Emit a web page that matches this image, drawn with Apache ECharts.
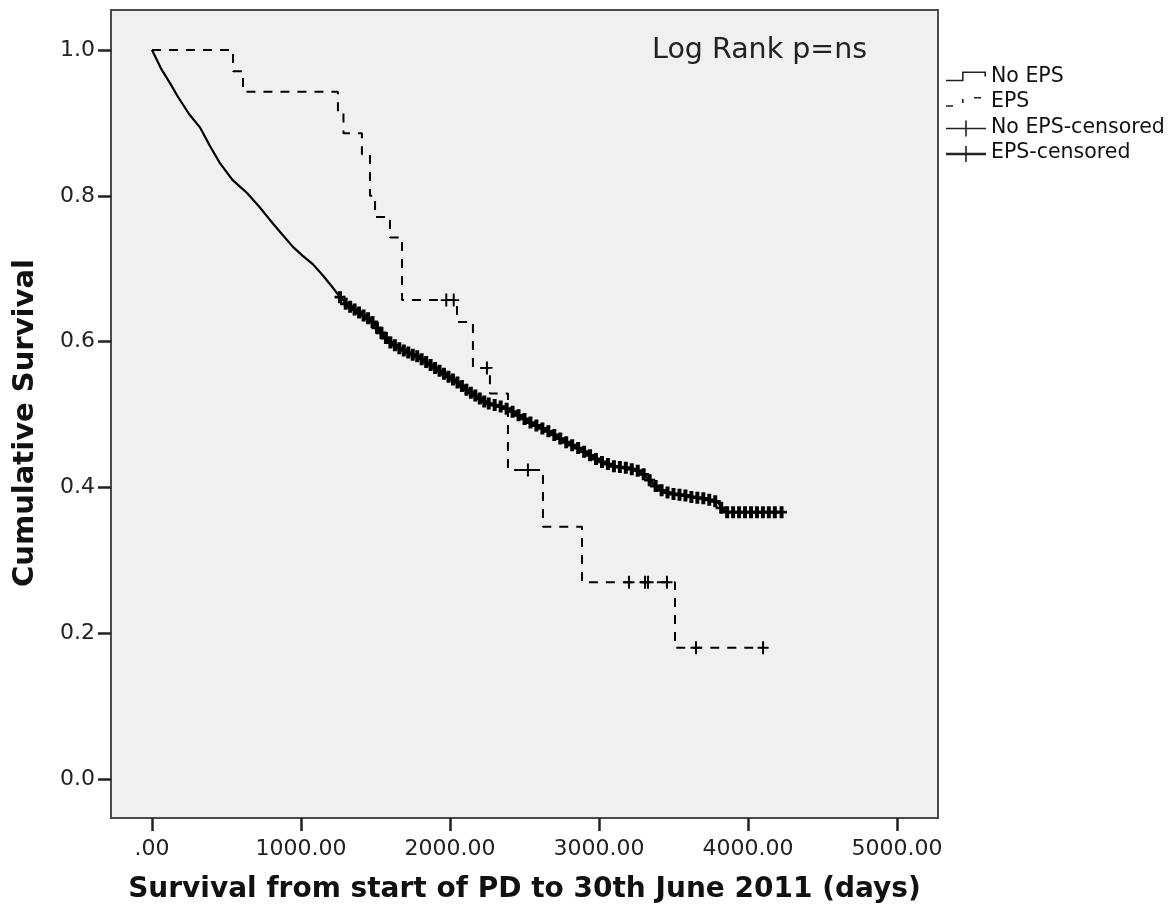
<!DOCTYPE html>
<html>
<head>
<meta charset="utf-8">
<script src="https://cdn.jsdelivr.net/npm/echarts@6/dist/echarts.min.js"></script>
<style>
html,body{margin:0;padding:0;background:#fff;}
#chart{width:1172px;height:907px;}
</style>
</head>
<body>
<div id="chart"></div>
<script>
// ---- data ----
var seriesNames = ['No EPS', 'EPS', 'No EPS-censored', 'EPS-censored'];

// No EPS survival curve [days, cumulative survival]
var noEpsCurve = [
  [0,1.000],[60,0.975],[120,0.955],[174,0.936],[250,0.912],[322,0.894],[390,0.868],
  [456,0.845],[540,0.822],[638,0.804],[720,0.785],[792,0.767],[870,0.748],[946,0.730],
  [1010,0.718],[1081,0.706],[1150,0.690],[1210,0.675],[1262,0.661],[1330,0.648],
  [1420,0.636],[1480,0.627],[1540,0.612],[1600,0.599],[1660,0.591],[1720,0.585],
  [1780,0.580],[1840,0.572],[1900,0.564],[1960,0.556],[2020,0.548],[2080,0.539],
  [2140,0.530],[2200,0.522],[2260,0.515],[2340,0.511],[2420,0.504],[2500,0.494],
  [2580,0.485],[2660,0.477],[2740,0.467],[2820,0.458],[2900,0.449],[2980,0.439],
  [3060,0.432],[3140,0.428],[3220,0.425],[3300,0.418],[3340,0.410],[3380,0.402],
  [3420,0.396],[3500,0.391],[3620,0.387],[3740,0.383],[3800,0.379],[3830,0.370],
  [3860,0.366],[4235,0.366]
];

// No EPS censored observations [days, survival]
var noEpsCensored = [
  [1262,0.661],[1300,0.652],[1330,0.648],[1360,0.644],[1390,0.640],[1420,0.636],
  [1450,0.632],[1480,0.627],[1510,0.619],[1540,0.612],[1570,0.605],[1600,0.599],
  [1630,0.595],[1660,0.591],[1690,0.588],[1720,0.585],[1750,0.582],[1780,0.580],
  [1810,0.576],[1840,0.572],[1870,0.568],[1900,0.564],[1930,0.560],[1960,0.556],
  [1990,0.552],[2020,0.548],[2050,0.544],[2080,0.539],[2110,0.534],[2140,0.530],
  [2170,0.526],[2200,0.522],[2230,0.518],[2260,0.515],[2300,0.513],[2340,0.511],
  [2380,0.508],[2420,0.504],[2460,0.499],[2500,0.494],[2540,0.489],[2580,0.485],
  [2620,0.481],[2660,0.477],[2700,0.472],[2740,0.467],[2780,0.462],[2820,0.458],
  [2860,0.454],[2900,0.449],[2940,0.444],[2980,0.439],[3020,0.435],[3060,0.432],
  [3100,0.429],[3140,0.428],[3180,0.427],[3220,0.425],[3260,0.423],[3300,0.418],
  [3340,0.410],[3380,0.402],[3420,0.396],[3460,0.393],[3500,0.391],[3540,0.390],
  [3580,0.389],[3620,0.387],[3660,0.386],[3700,0.385],[3740,0.383],[3780,0.381],
  [3820,0.372],[3860,0.366],[3900,0.366],[3940,0.366],[3980,0.366],[4020,0.366],
  [4060,0.366],[4100,0.366],[4140,0.366],[4180,0.366],[4225,0.366]
];

// EPS step curve [event day, survival after event]
var epsCurve = [
  [0,1.000],[544,0.971],[611,0.943],[1248,0.914],[1285,0.886],[1409,0.857],
  [1463,0.800],[1497,0.771],[1597,0.743],[1678,0.657],[2047,0.627],[2154,0.564],
  [2268,0.529],[2389,0.424],[2624,0.346],[2886,0.270],[3510,0.180],[4101,0.180]
];

// EPS censored observations
var epsCensored = [
  [1975,0.657],[2025,0.657],[2248,0.564],[2523,0.424],[3201,0.270],[3309,0.270],
  [3329,0.270],[3456,0.270],[3651,0.180],[4101,0.180]
];

var xTickValues = [0,1000,2000,3000,4000,5000];
var xTickLabels = ['.00','1000.00','2000.00','3000.00','4000.00','5000.00'];
var yTickValues = [0,0.2,0.4,0.6,0.8,1.0];
var yTickLabels = ['0.0','0.2','0.4','0.6','0.8','1.0'];
var annotation = 'Log Rank p=ns';
var xTitle = 'Survival from start of PD to 30th June 2011 (days)';
var yTitle = 'Cumulative Survival';

// ---- chart ----
var FONT = 'DejaVu Sans';
var plusBold = 'path://M3.2,0 h3.6 v12 h-3.6 Z M0,4.6 h10 v2.8 h-10 Z';
var plusThin = 'path://M4.1,0 h1.8 v12 h-1.8 Z M0,5.1 h10 v1.8 h-10 Z';
// legend icons drawn in a 40x18 box (tiny corner dots fix the box)
var corner = 'M0,0 h0.01 v0.01 h-0.01 Z M39.99,17.99 h0.01 v0.01 h-0.01 Z ';
var iconNoEps = 'path://' + corner + 'M0,12.2 h17.5 v1.6 h-17.5 Z M16,4 h1.6 v9.8 h-1.6 Z M16,4 h24 v1.6 h-24 Z M38.4,4 h1.6 v5 h-1.6 Z';
var iconEps = 'path://' + corner + 'M0,12.2 h7 v1.6 h-7 Z M16,6 h1.6 v4 h-1.6 Z M28,4 h7 v1.6 h-7 Z';
var iconCens = 'path://' + corner + 'M0,9.2 h40 v1.6 h-40 Z M19.2,2 h1.6 v16 h-1.6 Z';
var iconCens2 = 'path://' + corner + 'M0,8.8 h40 v2.4 h-40 Z M19.2,2 h1.6 v16 h-1.6 Z';

var chart = echarts.init(document.getElementById('chart'), null, {renderer: 'canvas'});
var option = {
  backgroundColor: '#ffffff',
  animation: false,
  textStyle: {fontFamily: FONT},
  grid: {
    left: 111, right: 234, top: 10, bottom: 89,
    outerBoundsMode: 'none', containLabel: false,
    show: true, backgroundColor: '#f0f0f0', borderColor: '#4a4a4a', borderWidth: 2
  },
  legend: {
    orient: 'vertical',
    left: 941, top: 61,
    itemWidth: 40, itemHeight: 18, itemGap: 4.5,
    selectedMode: false,
    textStyle: {fontFamily: FONT, fontSize: 20.5, color: '#111'},
    data: [
      {name: seriesNames[0], icon: iconNoEps},
      {name: seriesNames[1], icon: iconEps},
      {name: seriesNames[2], icon: iconCens},
      {name: seriesNames[3], icon: iconCens2}
    ],
    itemStyle: {color: '#222', borderWidth: 0}
  },
  xAxis: {
    type: 'value', min: -275, max: 5275,
    axisLine: {show: false, onZero: false},
    splitLine: {show: false},
    axisTick: {show: true, customValues: xTickValues, length: 13, inside: false,
      lineStyle: {color: '#222', width: 2.5}},
    axisLabel: {customValues: xTickValues, margin: 20, fontFamily: FONT, fontSize: 22, color: '#222',
      formatter: function (v) { return xTickLabels[xTickValues.indexOf(v)]; }},
    name: xTitle, nameLocation: 'middle', nameGap: 58,
    nameTextStyle: {fontFamily: FONT, fontSize: 28, fontWeight: 'bold', color: '#111'}
  },
  yAxis: {
    type: 'value', min: -0.0535, max: 1.055,
    axisLine: {show: false, onZero: false},
    splitLine: {show: false},
    axisTick: {show: true, customValues: yTickValues, length: 13,
      lineStyle: {color: '#222', width: 2.5}},
    axisLabel: {customValues: yTickValues, margin: 16, fontFamily: FONT, fontSize: 22, color: '#222',
      formatter: function (v) { return yTickLabels[yTickValues.indexOf(Math.round(v*10)/10)]; }},
    name: yTitle, nameLocation: 'middle', nameGap: 71, nameRotate: 90,
    nameTextStyle: {fontFamily: FONT, fontSize: 29, fontWeight: 'bold', color: '#111', padding: [0, 18, 0, 0]}
  },
  graphic: [
    {type: 'text', left: 652, top: 36, z: 10,
     style: {text: annotation, fontFamily: FONT, fontSize: 28.5, fill: '#222'}}
  ],
  series: [
    {name: seriesNames[0], type: 'line', data: noEpsCurve, showSymbol: false, symbol: 'none',
     lineStyle: {color: '#000', width: 2.2}, itemStyle: {color: '#000'}, z: 3},
    {name: seriesNames[1], type: 'line', data: epsCurve, step: 'end', showSymbol: false, symbol: 'none',
     lineStyle: {color: '#000', width: 2, type: [9, 8]}, itemStyle: {color: '#000'}, z: 2},
    {name: seriesNames[2], type: 'scatter', data: noEpsCensored, symbol: plusBold, symbolSize: [11, 12],
     itemStyle: {color: '#000', opacity: 1}, z: 4},
    {name: seriesNames[3], type: 'scatter', data: epsCensored, symbol: plusThin, symbolSize: [11, 13],
     itemStyle: {color: '#000', opacity: 1}, z: 4}
  ]
};
chart.setOption(option);
</script>
</body>
</html>
